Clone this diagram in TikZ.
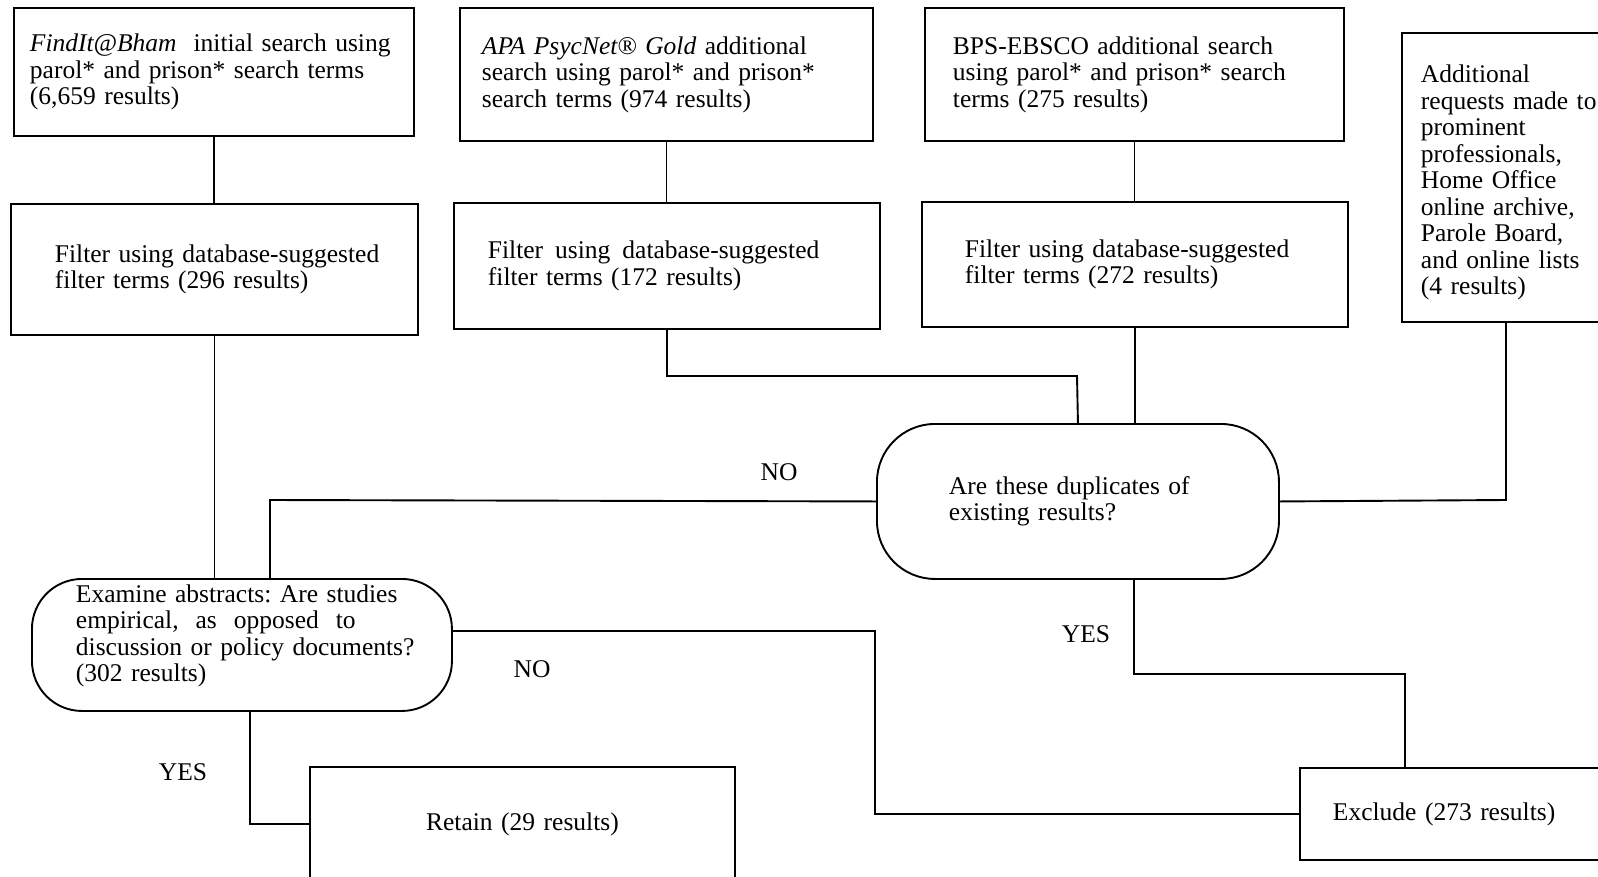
\documentclass[tikz,border=0pt]{standalone}
\usepackage{fontspec}
\setmainfont{Liberation Serif}
\begin{document}
\begin{tikzpicture}[x=1pt,y=-1pt,
  every node/.style={font=\fontsize{25.5}{26.5}\selectfont},
  box/.style={draw, line width=1.9pt, rectangle, anchor=north west, align=left, inner ysep=0pt,
    execute at begin node={\frenchspacing\hyphenpenalty=10000\exhyphenpenalty=10000}},
  conn/.style={draw, line width=1.9pt},
  lbl/.style={inner sep=0pt}]
\useasboundingbox[fill=white] (0,0) rectangle (1598,876);

% top row
\node[box, minimum width=400pt, minimum height=128pt, inner xsep=16pt, text width=368pt] (A) at (13,7)
  {\mbox{\textit{FindIt@Bham}\ \ initial search using}\\\mbox{parol* and prison* search terms}\\(6,659 results)};
\node[box, minimum width=413pt, minimum height=133pt, inner xsep=22pt, text width=369pt] (C) at (459,7)
  {\mbox{\textit{APA PsycNet® Gold} additional}\\\mbox{search using parol* and prison*}\\search terms (974 results)};
\node[box, minimum width=419pt, minimum height=133pt, inner xsep=28pt, text width=363pt] (E) at (924,7)
  {\mbox{BPS-EBSCO additional search}\\\mbox{using parol* and prison* search}\\terms (275 results)};
\node[box, minimum height=289pt, inner xsep=19pt, text width=200pt] (G) at (1401,32)
  {\rule{0pt}{28pt}Additional\\requests made to\\prominent\\professionals,\\Home Office\\online archive,\\Parole Board,\\and online lists\\(4 results)};

% filter row
\node[box, minimum width=407pt, minimum height=131pt, inner xsep=44pt, text width=319pt] (B) at (10,203)
  {\mbox{Filter using database-suggested}\\filter terms (296 results)};
\node[box, minimum width=426pt, minimum height=126pt, inner xsep=34pt, text width=358pt] (D) at (453,202)
  {\mbox{Filter\hspace{12pt}using\hspace{12pt}database-suggested}\\filter terms (172 results)};
\node[box, minimum width=426pt, minimum height=125pt, inner xsep=43pt, text width=340pt] (F) at (921,201)
  {\mbox{Filter using database-suggested}\\filter terms (272 results)};

% decisions
\node[box, rounded corners=58pt, minimum width=402pt, minimum height=155pt, inner xsep=72pt, text width=258pt] (Dup) at (876,423)
  {Are these duplicates of\\existing results?};
\node[box, rounded corners=50pt, minimum width=420pt, minimum height=132pt, inner xsep=44pt, text width=332pt] (Exa) at (31,578)
  {\mbox{Examine abstracts: Are studies}\\\mbox{empirical,\ \ as\ \ opposed\ \ to}\\\mbox{discussion or policy documents?}\\(302 results)\rule[-24pt]{0pt}{24pt}};

% outcomes
\node[box, align=center, minimum width=425pt, minimum height=114pt, inner xsep=10pt, text width=405pt] (Ret) at (309,766)
  {Retain (29 results)};
\node[box, minimum height=92pt, inner xsep=33pt, text width=300pt] (Exc) at (1299,767)
  {Exclude (273 results)};

% labels
\node[lbl] (no1) at (779,472) {NO};
\node[lbl] (no2) at (532,669) {NO};
\node[lbl] (yes1) at (1086,634) {YES};
\node[lbl] (yes2) at (183,772) {YES};

% junction coordinates
\coordinate (j1) at (1077,376);
\coordinate (g1) at (1506,500);
\coordinate (n1) at (270,500);
\coordinate (k1) at (875,631);
\coordinate (k2) at (1134,674);
\coordinate (k3) at (1405,674);
\coordinate (r1) at (250,820);

% connectors
\draw[conn] (A.south) -- (A.south |- B.north);
\draw[conn] (C.south) -- (C.south |- D.north);
\draw[conn] (E.south) -- (E.south |- F.north);
\draw[conn] (B.south) -- (B.south |- Exa.north);
\draw[conn] (D.south) |- (j1) -- (Dup.north);
\draw[conn] (F.south) -- (F.south |- Dup.north);
\draw[conn] (g1 |- G.south) -- (g1) -- (Dup.east);
\draw[conn] (Dup.west) -- (n1) -- (n1 |- Exa.north);
\draw[conn] (Exa.east |- k1) -- (k1) |- (Exc.west);
\draw[conn] (k2 |- Dup.south) -- (k2) -- (k3) -- (k3 |- Exc.north);
\draw[conn] (r1 |- Exa.south) |- (Ret.west);
\end{tikzpicture}
\end{document}
